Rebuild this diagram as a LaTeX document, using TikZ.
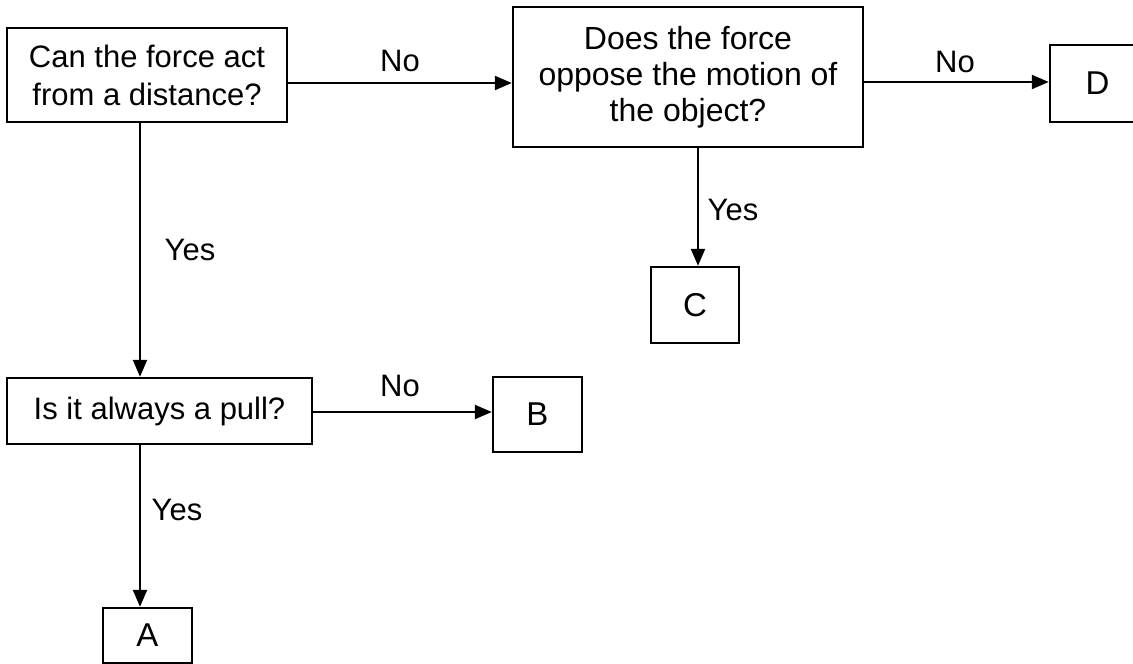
\documentclass[tikz,border=0pt]{standalone}
\usepackage{fontspec}
\setmainfont{Liberation Sans}
\usetikzlibrary{arrows.meta}
\begin{document}
\begin{tikzpicture}[x=1pt,y=-1pt,
  box/.style={draw=black,line width=2.4pt,rectangle,inner sep=0pt,align=center,
    font=\fontsize{31}{38}\selectfont},
  lbl/.style={inner sep=0pt,font=\fontsize{31}{38}\selectfont},
  arr/.style={line width=2.2pt,-{Triangle[length=17pt,width=14pt]}}]
\useasboundingbox (0,0) rectangle (1133,664);
\node[box,minimum width=280pt,minimum height=94pt] (q1) at (147,75) {Can the force act\\from a distance?};
\node[box,minimum width=350pt,minimum height=140pt,font=\fontsize{32}{36}\selectfont] (q2) at (688,77) {Does the force\\oppose the motion of\\the object?};
\node[box,minimum width=305pt,minimum height=66pt] (q3) at (159.5,411) {Is it always a pull?};
\node[box,minimum width=95pt,minimum height=77pt,font=\fontsize{33}{38}\selectfont] (D) at (1097.5,83.5) {D};
\node[box,minimum width=88pt,minimum height=76pt,font=\fontsize{33}{38}\selectfont] (C) at (695,305) {C};
\node[box,minimum width=89pt,minimum height=75pt,font=\fontsize{33}{38}\selectfont] (B) at (537.5,414.5) {B};
\node[box,minimum width=89pt,minimum height=55pt,font=\fontsize{33}{38}\selectfont] (A) at (147.5,635.5) {A};
\coordinate (vx) at (140,0);
\coordinate (cx) at (698,0);
\coordinate (h1) at (0,83);
\coordinate (h2) at (0,82);
\coordinate (h3) at (0,412);
\draw[arr] (q1.east |- h1) -- (q2.west |- h1);
\draw[arr] (q2.east |- h2) -- (D.west |- h2);
\draw[arr] (q2.south -| cx) -- (C.north -| cx);
\draw[arr] (q1.south -| vx) -- (q3.north -| vx);
\draw[arr] (q3.east |- h3) -- (B.west |- h3);
\draw[arr] (q3.south -| vx) -- (A.north -| vx);
\node[lbl] (l1) at (400,61) {No};
\node[lbl] (l2) at (955,62) {No};
\node[lbl] (l3) at (190,250) {Yes};
\node[lbl] (l4) at (733,210) {Yes};
\node[lbl] (l5) at (400,386) {No};
\node[lbl] (l6) at (177,510) {Yes};
\end{tikzpicture}
\end{document}
